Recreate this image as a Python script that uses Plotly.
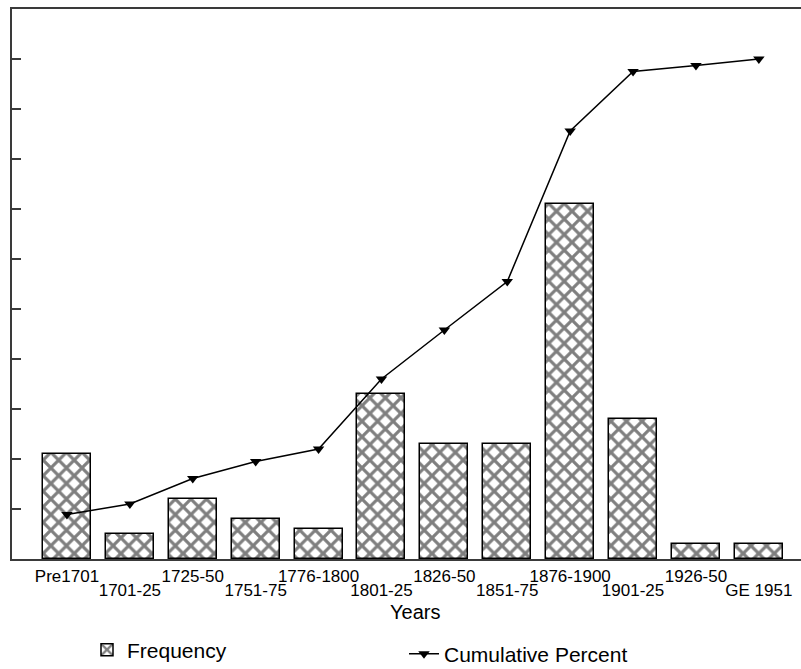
import plotly.graph_objects as go

categories = ["Pre1701", "1701-25", "1725-50", "1751-75", "1776-1800", "1801-25",
              "1826-50", "1851-75", "1876-1900", "1901-25", "1926-50", "GE 1951"]
frequency = [21, 5, 12, 8, 6, 33, 23, 23, 71, 28, 3, 3]
cumulative_percent = [8.9, 11.0, 16.1, 19.5, 22.0, 36.0, 45.8, 55.5, 85.6, 97.5, 98.7, 100.0]
y_ticks = [10, 20, 30, 40, 50, 60, 70, 80, 90, 100]

even_ticks = categories[0::2]
odd_ticks = categories[1::2]

FONT = "Liberation Sans, Arial, sans-serif"
AX = "#3a3a3a"
xrange = [-0.874, 11.67]

fig = go.Figure()
fig.add_trace(go.Bar(
    x=categories, y=frequency, name="Frequency", width=0.763,
    marker=dict(color="white", line=dict(color="black", width=1.5),
                pattern=dict(shape="x", fgcolor="black", bgcolor="white",
                             size=11, solidity=0.5)),
    legend="legend", showlegend=True,
))
fig.add_trace(go.Scatter(
    x=categories, y=cumulative_percent, name="Cumulative Percent",
    mode="lines+markers", xaxis="x2",
    line=dict(color="black", width=1.5),
    marker=dict(symbol="triangle-down", size=10, color="black"),
    legend="legend2", showlegend=True,
))

fig.update_layout(
    width=801, height=669,
    margin=dict(l=12, r=0, t=9, b=110, autoexpand=False),
    paper_bgcolor="white", plot_bgcolor="white",
    font=dict(family=FONT, color="black"),
    bargap=0, showlegend=True,
    xaxis=dict(type="category", categoryorder="array", categoryarray=categories,
               range=xrange, tickvals=even_ticks, ticktext=even_ticks,
               showline=True, linecolor=AX, linewidth=2, mirror=True,
               ticks="", showgrid=False, zeroline=False, automargin=False,
               tickfont=dict(size=17, family=FONT, color="black"),
               ticklabelstandoff=1),
    xaxis2=dict(type="category", categoryorder="array", categoryarray=categories,
                overlaying="x", side="bottom", range=xrange,
                tickvals=odd_ticks, ticktext=odd_ticks,
                showline=False, ticks="", showgrid=False, zeroline=False, automargin=False,
                tickfont=dict(size=17, family=FONT, color="black"),
                ticklabelstandoff=19),
    yaxis=dict(range=[0, 110], tickvals=y_ticks, showticklabels=False,
               ticks="inside", ticklen=9, tickwidth=2, tickcolor=AX,
               showline=True, linecolor=AX, linewidth=2, automargin=False,
               showgrid=False, zeroline=False),
    legend=dict(x=(87 - 12) / 789, y=(559 - 650) / 550, xanchor="left", yanchor="middle",
                font=dict(size=21, family=FONT, color="black"), bgcolor="rgba(0,0,0,0)"),
    legend2=dict(x=(404 - 12) / 789, y=(559 - 654) / 550, xanchor="left", yanchor="middle",
                 font=dict(size=21, family=FONT, color="black"), bgcolor="rgba(0,0,0,0)"),
    annotations=[dict(text="Years", xref="paper", yref="paper",
                      x=(415 - 12) / 789, y=(559 - 612) / 550,
                      xanchor="center", yanchor="middle", showarrow=False,
                      font=dict(size=20, family=FONT, color="black"))],
)

fig.write_html("out.html", config={"displayModeBar": False},
               post_script="document.body.style.margin='0';document.body.style.overflow='hidden';")
